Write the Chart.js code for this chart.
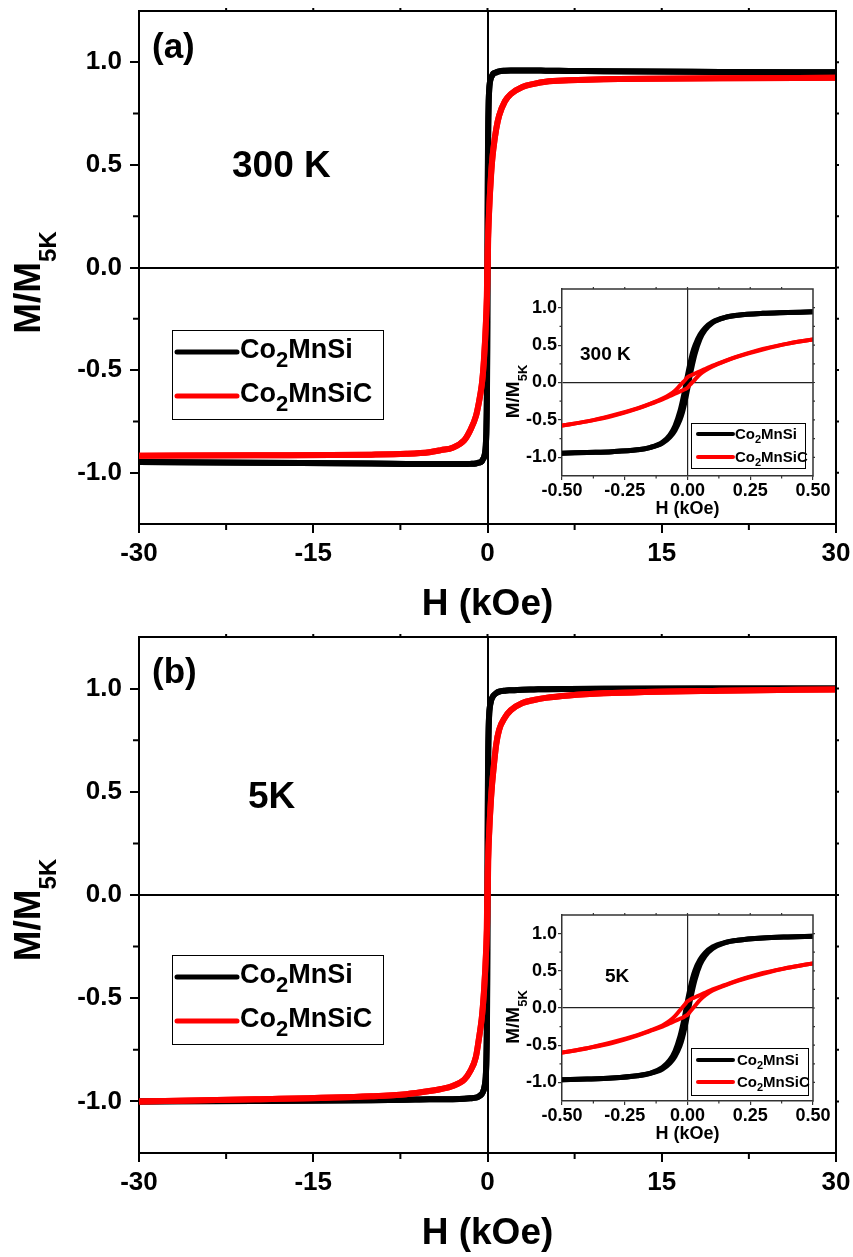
<!DOCTYPE html>
<html>
<head>
<meta charset="utf-8">
<title>Co2MnSi / Co2MnSiC M-H loops</title>
<script src="https://cdn.jsdelivr.net/npm/chart.js@4.4.1/dist/chart.umd.min.js"></script>
<style>
  html, body { margin: 0; padding: 0; background: #fff; }
  #page { position: relative; width: 853px; height: 1257px; overflow: hidden; }
  .box { position: absolute; }
</style>
</head>
<body>
<div id="page">
  <div class="box" style="left:0;top:0;width:853px;height:630px"><canvas id="mainA"></canvas></div>
  <div class="box" style="left:0;top:626px;width:853px;height:631px"><canvas id="mainB"></canvas></div>
  <div class="box" style="left:490px;top:280px;width:343px;height:245px"><canvas id="insetA"></canvas></div>
  <div class="box" style="left:490px;top:906px;width:343px;height:245px"><canvas id="insetB"></canvas></div>
</div>
<script>
const FAMILY = '"Liberation Sans", Arial, Helvetica, sans-serif';

const sampleNames = ['Co_{2}MnSi', 'Co_{2}MnSiC'];
const sampleColors = ['#000000', '#ff0000'];

// axis tick labels
const mTicks = [-1, -0.5, 0, 0.5, 1];
const hTicksMain = [-30, -15, 0, 15, 30];
const hTicksInset = [-0.5, -0.25, 0, 0.25, 0.5];

// high field part of the sweep, kOe (both branches coincide here)
const fieldOuter = [-30, -20, -10, -7, -5, -4, -3, -2, -1.5, -1, -0.75,
                    0.75, 1, 1.5, 2, 3, 4, 5, 7, 10, 20, 30];
// low field part, kOe
const fieldInner = [-0.5, -0.4, -0.3, -0.2, -0.15, -0.1, -0.07, -0.05, -0.03, -0.02, -0.01,
                    0, 0.01, 0.02, 0.03, 0.05, 0.07, 0.1, 0.15, 0.2, 0.3, 0.4, 0.5];

// 300 K
const si300Outer  = [-0.948, -0.952, -0.955, -0.957, -0.958, -0.958, -0.958, -0.958, -0.957, -0.955, -0.951,
                      0.951, 0.956, 0.959, 0.96, 0.96, 0.96, 0.959, 0.958, 0.956, 0.953, 0.951];
const sic300Outer = [-0.917, -0.915, -0.912, -0.908, -0.90, -0.89, -0.878, -0.842, -0.795, -0.725, -0.66,
                      0.675, 0.74, 0.81, 0.845, 0.88, 0.895, 0.905, 0.912, 0.918, 0.922, 0.925];
// "Down" = sweep coming from +H, "Up" = sweep coming from -H
const si300Down  = [-0.945, -0.935, -0.925, -0.90, -0.87, -0.80, -0.70, -0.58, -0.38, -0.24, -0.08,
                     0.10, 0.26, 0.40, 0.50, 0.64, 0.73, 0.81, 0.87, 0.90, 0.925, 0.935, 0.945];
const si300Up    = [-0.945, -0.935, -0.925, -0.90, -0.87, -0.81, -0.73, -0.64, -0.50, -0.40, -0.26,
                    -0.10, 0.08, 0.24, 0.38, 0.58, 0.70, 0.80, 0.87, 0.90, 0.925, 0.935, 0.945];
const sic300Down = [-0.575, -0.52, -0.44, -0.345, -0.285, -0.215, -0.16, -0.11, -0.04, -0.005, 0.03,
                     0.07, 0.09, 0.105, 0.12, 0.15, 0.18, 0.225, 0.29, 0.35, 0.45, 0.52, 0.575];
const sic300Up   = [-0.575, -0.52, -0.45, -0.35, -0.29, -0.225, -0.18, -0.15, -0.12, -0.105, -0.09,
                    -0.07, -0.03, 0.005, 0.04, 0.11, 0.16, 0.215, 0.285, 0.345, 0.44, 0.52, 0.575];

// 5 K
const si5Outer  = [-1.0, -0.998, -0.994, -0.992, -0.99, -0.99, -0.989, -0.987, -0.985, -0.982, -0.976,
                    0.978, 0.985, 0.99, 0.992, 0.995, 0.996, 0.997, 0.998, 0.999, 1.0, 1.0];
const sic5Outer = [-1.0, -0.99, -0.975, -0.965, -0.95, -0.94, -0.925, -0.895, -0.855, -0.785, -0.70,
                    0.73, 0.80, 0.86, 0.895, 0.93, 0.945, 0.955, 0.967, 0.977, 0.99, 0.996];
const si5Down  = [-0.965, -0.955, -0.94, -0.91, -0.88, -0.80, -0.70, -0.58, -0.38, -0.24, -0.08,
                   0.10, 0.26, 0.40, 0.51, 0.65, 0.74, 0.82, 0.88, 0.91, 0.94, 0.955, 0.965];
const si5Up    = [-0.965, -0.955, -0.94, -0.91, -0.88, -0.82, -0.74, -0.65, -0.51, -0.40, -0.26,
                  -0.10, 0.08, 0.24, 0.38, 0.58, 0.70, 0.80, 0.88, 0.91, 0.94, 0.955, 0.965];
const sic5Down = [-0.60, -0.54, -0.46, -0.365, -0.305, -0.235, -0.17, -0.11, -0.03, 0.01, 0.05,
                   0.09, 0.11, 0.13, 0.145, 0.175, 0.205, 0.25, 0.31, 0.37, 0.47, 0.54, 0.60];
const sic5Up   = [-0.60, -0.54, -0.47, -0.37, -0.31, -0.25, -0.205, -0.175, -0.145, -0.13, -0.11,
                  -0.09, -0.05, -0.01, 0.03, 0.11, 0.17, 0.235, 0.305, 0.365, 0.46, 0.54, 0.60];

function pairs(xs, ys) {
  return xs.map((h, i) => ({ x: h, y: ys[i] }));
}

// full sweep branch = high field points + low field branch, sorted by H
function fullBranch(outer, inner) {
  return pairs(fieldOuter, outer).concat(pairs(fieldInner, inner)).sort((a, b) => a.x - b.x);
}

// text with _{...} parts drawn as subscripts
function drawRich(ctx, text, x, y, size, subSize, subDrop, align) {
  const parts = text.split(/_\{([^}]*)\}/)
    .map((t, i) => ({ t, sub: i % 2 === 1 }))
    .filter(p => p.t);
  const fontOf = p => `bold ${p.sub ? subSize : size}px ${FAMILY}`;
  let w = 0;
  parts.forEach(p => { ctx.font = fontOf(p); p.w = ctx.measureText(p.t).width; w += p.w; });
  let cx = align === 'center' ? x - w / 2 : x;
  ctx.textAlign = 'left';
  ctx.textBaseline = 'alphabetic';
  parts.forEach(p => {
    ctx.font = fontOf(p);
    ctx.fillText(p.t, cx, y + (p.sub ? subDrop : 0));
    cx += p.w;
  });
}

function midpoints(scale) {
  const t = scale.ticks.map(k => k.value);
  const out = [];
  for (let i = 0; i < t.length - 1; i++) out.push((t[i] + t[i + 1]) / 2);
  return out;
}

// frame on top/right, minor ticks, y title, text labels and legend box
const framePlugin = {
  id: 'frame',
  afterDraw(chart, args, o) {
    const { ctx, chartArea: a, scales: { x, y } } = chart;
    ctx.save();
    ctx.fillStyle = '#000';
    ctx.strokeStyle = o.axisColor;
    ctx.lineWidth = o.axisW;
    ctx.lineCap = 'butt';
    ctx.beginPath();
    ctx.moveTo(a.left - o.axisW / 2, a.top);
    ctx.lineTo(a.right, a.top);
    ctx.lineTo(a.right, a.bottom + o.axisW / 2);
    ctx.stroke();

    // minor ticks on bottom and left
    ctx.lineWidth = o.tickW;
    ctx.beginPath();
    midpoints(x).forEach(v => {
      const px = x.getPixelForValue(v);
      ctx.moveTo(px, a.bottom); ctx.lineTo(px, a.bottom + o.minor);
    });
    midpoints(y).forEach(v => {
      const py = y.getPixelForValue(v);
      ctx.moveTo(a.left, py); ctx.lineTo(a.left - o.minor, py);
    });
    // short ticks on top and right
    const xs = x.ticks.map(k => k.value).concat(midpoints(x)).filter(v => v > x.min && v < x.max);
    const ys = y.ticks.map(k => k.value).concat(midpoints(y)).filter(v => v > y.min && v < y.max);
    xs.forEach(v => {
      const px = x.getPixelForValue(v);
      ctx.moveTo(px, a.top); ctx.lineTo(px, a.top - o.outer);
    });
    ys.forEach(v => {
      const py = y.getPixelForValue(v);
      ctx.moveTo(a.right, py); ctx.lineTo(a.right + o.outer, py);
    });
    ctx.stroke();

    // y axis title, rotated
    const t = o.yTitle;
    ctx.save();
    ctx.translate(t.x, (a.top + a.bottom) / 2 + t.shift);
    ctx.rotate(-Math.PI / 2);
    drawRich(ctx, 'M/M_{5K}', 0, 0, t.size, t.sub, t.drop, 'center');
    ctx.restore();

    (o.labels || []).forEach(l => {
      drawRich(ctx, l.text, a.left + l.dx, a.top + l.dy, l.size, l.size, 0, 'left');
    });

    // legend
    const g = o.legend;
    const bx = a.left + g.dx, by = a.top + g.dy;
    ctx.fillStyle = '#fff';
    ctx.fillRect(bx, by, g.w, g.h);
    ctx.strokeStyle = '#000';
    ctx.lineWidth = 1;
    ctx.strokeRect(bx + 0.5, by + 0.5, g.w, g.h);
    sampleNames.forEach((name, i) => {
      const ry = by + g.rows[i];
      ctx.strokeStyle = sampleColors[i];
      ctx.lineWidth = g.lineW;
      ctx.lineCap = 'round';
      ctx.beginPath();
      ctx.moveTo(bx + g.s0, ry); ctx.lineTo(bx + g.s1, ry);
      ctx.stroke();
      ctx.fillStyle = '#000';
      drawRich(ctx, name, bx + g.tx, ry + g.base, g.size, g.sub, g.drop, 'left');
    });
    ctx.restore();
  }
};

function loopChart(id, sets, o) {
  const datasets = [];
  sets.forEach((s, i) => {
    [s.down, s.up].forEach(pts => {
      datasets.push({
        label: sampleNames[i],
        data: pts,
        showLine: true,
        borderColor: sampleColors[i],
        borderWidth: o.lineW[i],
        pointRadius: 0,
        cubicInterpolationMode: 'monotone',
        borderJoinStyle: 'round',
        borderCapStyle: 'round',
        order: sets.length - i
      });
    });
  });

  const zeroGrid = {
    drawOnChartArea: true,
    color: c => (c.tick && Math.abs(c.tick.value) < 1e-9) ? o.zeroColor : 'rgba(0,0,0,0)',
    lineWidth: o.zeroW,
    drawTicks: true,
    tickLength: o.tick,
    tickWidth: o.tickW,
    tickColor: o.axisColor
  };

  return new Chart(document.getElementById(id), {
    type: 'scatter',
    data: { datasets },
    options: {
      responsive: true,
      maintainAspectRatio: false,
      animation: false,
      layout: { padding: { top: o.padTop, right: o.padRight, left: 0, bottom: 0 } },
      plugins: {
        legend: { display: false },
        tooltip: { enabled: false },
        frame: o.frame
      },
      scales: {
        x: {
          type: 'linear',
          min: o.xMin, max: o.xMax,
          afterBuildTicks: s => { s.ticks = o.xTicks.map(v => ({ value: v })); },
          afterFit: s => { s.height = o.xAxisH; s.paddingLeft = 0; s.paddingRight = 0; },
          ticks: {
            autoSkip: false, maxRotation: 0,
            padding: o.xPad, color: '#000',
            font: { size: o.tickSize, weight: 'bold' },
            callback: v => v.toFixed(o.xDigits)
          },
          grid: zeroGrid,
          border: { display: true, color: o.axisColor, width: o.axisW },
          title: {
            display: true, text: 'H (kOe)', color: '#000',
            font: { size: o.titleSize, weight: 'bold' },
            padding: { top: 0, bottom: o.titlePad }
          }
        },
        y: {
          type: 'linear',
          min: -1.25, max: 1.25,
          afterBuildTicks: s => { s.ticks = mTicks.map(v => ({ value: v })); },
          afterFit: s => { s.width = o.yAxisW; s.paddingTop = 0; s.paddingBottom = 0; },
          ticks: {
            autoSkip: false,
            padding: o.yPad, color: '#000',
            font: { size: o.tickSize, weight: 'bold' },
            callback: v => v.toFixed(1)
          },
          grid: zeroGrid,
          border: { display: true, color: o.axisColor, width: o.axisW }
        }
      }
    },
    plugins: [framePlugin]
  });
}

const mainStyle = {
  xMin: -30, xMax: 30, xTicks: hTicksMain, xDigits: 0,
  lineW: [6, 6], axisColor: '#000', axisW: 2, zeroColor: '#000', zeroW: 2,
  tick: 9, tickW: 2, tickSize: 26, titleSize: 37,
  xPad: 5, yPad: 8, yAxisW: 139, padRight: 17, padTop: 11
};
const insetStyle = {
  xMin: -0.5, xMax: 0.5, xTicks: hTicksInset, xDigits: 2,
  lineW: [5, 4], axisColor: '#333', axisW: 1.5, zeroColor: '#222', zeroW: 1.2,
  tick: 4, tickW: 1.2, tickSize: 18, titleSize: 18,
  xPad: 0, yPad: 1, yAxisW: 72, padRight: 20, padTop: 9
};

function mainFrame(labels, legendTop) {
  return {
    axisColor: '#000', axisW: 2, tickW: 2, minor: 6, outer: 3,
    yTitle: { x: 40, size: 37, sub: 24, drop: 16, shift: 15 },
    labels,
    legend: { dx: 33, dy: legendTop, w: 211, h: 89, rows: [22, 66], s0: 5, s1: 65, tx: 68,
              base: 6, size: 27, sub: 22, drop: 9, lineW: 5 }
  };
}
function insetFrame(labels, legendTop, w, h, rows, tx) {
  return {
    axisColor: '#333', axisW: 1.5, tickW: 1.2, minor: 2.5, outer: 2,
    yTitle: { x: 29, size: 19, sub: 13, drop: 8, shift: 9 },
    labels,
    legend: { dx: 129, dy: legendTop, w, h, rows, s0: 7, s1: 42, tx,
              base: 5, size: 15, sub: 11, drop: 4, lineW: 4 }
  };
}

loopChart('mainA', [
  { down: fullBranch(si300Outer, si300Down), up: fullBranch(si300Outer, si300Up) },
  { down: fullBranch(sic300Outer, sic300Down), up: fullBranch(sic300Outer, sic300Up) }
], Object.assign({}, mainStyle, {
  xAxisH: 106, titlePad: 3,
  frame: mainFrame([{ text: '(a)', dx: 13, dy: 47, size: 35 },
                    { text: '300 K', dx: 93, dy: 166, size: 37 }], 319)
}));

loopChart('mainB', [
  { down: fullBranch(si5Outer, si5Down), up: fullBranch(si5Outer, si5Up) },
  { down: fullBranch(sic5Outer, sic5Down), up: fullBranch(sic5Outer, sic5Up) }
], Object.assign({}, mainStyle, {
  xAxisH: 104, titlePad: 1,
  frame: mainFrame([{ text: '(b)', dx: 13, dy: 46, size: 35 },
                    { text: '5K', dx: 109, dy: 171, size: 37 }], 318)
}));

loopChart('insetA', [
  { down: pairs(fieldInner, si300Down), up: pairs(fieldInner, si300Up) },
  { down: pairs(fieldInner, sic300Down), up: pairs(fieldInner, sic300Up) }
], Object.assign({}, insetStyle, {
  xAxisH: 49, titlePad: 5,
  frame: insetFrame([{ text: '300 K', dx: 18, dy: 71, size: 19 }], 134, 114, 45, [11, 34], 44)
}));

loopChart('insetB', [
  { down: pairs(fieldInner, si5Down), up: pairs(fieldInner, si5Up) },
  { down: pairs(fieldInner, sic5Down), up: pairs(fieldInner, sic5Up) }
], Object.assign({}, insetStyle, {
  xAxisH: 50, titlePad: 6,
  frame: insetFrame([{ text: '5K', dx: 43, dy: 67, size: 19 }], 133, 117, 47, [12, 34], 46)
}));
</script>
</body>
</html>
